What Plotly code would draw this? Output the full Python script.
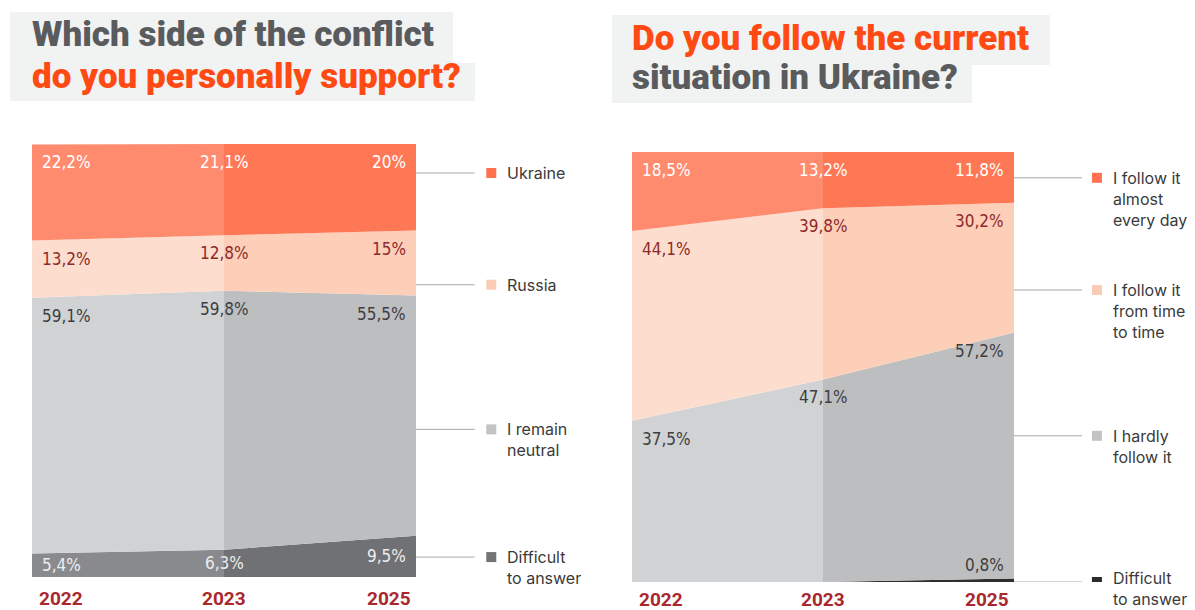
import plotly.graph_objects as go

W, H = 1195, 610

years = ["2022", "2023", "2025"]

# Which side of the conflict do you personally support? (top band first)
support_labels = ["Ukraine", "Russia", "I remain<br>neutral", "Difficult<br>to answer"]
support_ukraine = [22.2, 21.1, 20.0]
support_russia = [13.2, 12.8, 15.0]
support_neutral = [59.1, 59.8, 55.5]
support_difficult = [5.4, 6.3, 9.5]

# Do you follow the current situation in Ukraine? (top band first)
follow_labels = ["I follow it<br>almost<br>every day", "I follow it<br>from time<br>to time",
                 "I hardly<br>follow it", "Difficult<br>to answer"]
follow_daily = [18.5, 13.2, 11.8]
follow_sometimes = [44.1, 39.8, 30.2]
follow_hardly = [37.5, 47.1, 57.2]
follow_difficult = [0.0, 0.0, 0.8]

# styling
ORANGE = "#FF4A14"
TITLE_GRAY = "#5A5B5D"
YEAR_RED = "#A8282D"
TITLE_BG = "#F1F2F2"
LEADER = "#A9A9A9"
PCT_FONT = "DejaVu Sans Condensed, Liberation Sans Narrow, sans-serif"
TITLE_FONT = "Roboto, Liberation Sans, sans-serif"
LEGEND_FONT = "Inter, Noto Sans, sans-serif"

# fill colours per band: (2022-2023 segment, 2023-2025 segment), swatch, label colour, placement
support_style = [
    dict(fill=("#FF8B6F", "#FF7856"), swatch="#FF7150", text="#FFFFFF", place="top"),
    dict(fill=("#FDDDCD", "#FDCFB9"), swatch="#FCCBB6", text="#8E2A2B", place="top"),
    dict(fill=("#D1D2D4", "#BDBEC0"), swatch="#C2C3C5", text="#3D3E40", place="top"),
    dict(fill=("#898A8D", "#707174"), swatch="#727375", text="#EDEDED", place="center"),
]
follow_style = [
    dict(fill=("#FF8B6F", "#FF7856"), swatch="#FF7150", text="#FFFFFF", place="top"),
    dict(fill=("#FDDDCD", "#FDCFB9"), swatch="#FCCBB6", text="#8E2A2B", place="top"),
    dict(fill=("#D1D2D4", "#BDBEC0"), swatch="#C2C3C5", text="#3D3E40", place="top"),
    dict(fill=("#3A3A3A", "#2E2E2E"), swatch="#2B2B2B", text="#3D3E40", place="above"),
]

panels = [
    dict(series=[support_ukraine, support_russia, support_neutral, support_difficult],
         labels=support_labels, style=support_style, xa="x", ya="y",
         dom_x=(32 / W, 416 / W), dom_y=(1 - 577 / H, 1 - 144 / H),
         leader_end=1.153, swatch_x=1.183, text_x=1.232, year_shift=-21,
         legend_y=[93.3, 67.5, 34.1, 4.6], text_lift=[0, 0, 0, 0]),
    dict(series=[follow_daily, follow_sometimes, follow_hardly, follow_difficult],
         labels=follow_labels, style=follow_style, xa="x2", ya="y2",
         dom_x=(632 / W, 1014 / W), dom_y=(1 - 582 / H, 1 - 152 / H),
         leader_end=1.178, swatch_x=1.204, text_x=1.254, year_shift=-17,
         legend_y=[94.0, 67.9, 34.0, 0.0], text_lift=[0, 0, 0, 4]),
]


def fmt(v):
    return f"{v:g}".replace(".", ",") + "%"


fig = go.Figure()
annotations = []
shapes = []

for p_i, p in enumerate(panels):
    xa, ya = p["xa"], p["ya"]
    n = len(p["series"])
    # stacked areas, drawn bottom band first, one stack per year-to-year segment
    for seg in range(len(years) - 1):
        for k in reversed(range(n)):
            vals = p["series"][k]
            fig.add_trace(go.Scatter(
                x=years[seg:seg + 2], y=vals[seg:seg + 2],
                stackgroup=f"p{p_i}s{seg}", mode="lines",
                line=dict(width=0), fillcolor=p["style"][k]["fill"][seg],
                hoverinfo="skip", showlegend=False,
                xaxis=xa, yaxis=ya,
            ))

    # value labels
    for i, yr in enumerate(years):
        top = sum(s[i] for s in p["series"])
        for k in range(n):
            v = p["series"][k][i]
            bottom = top - v
            st = p["style"][k]
            if v > 0:
                if i == 0:
                    xanchor, xshift = "left", 8
                elif i == len(years) - 1:
                    xanchor, xshift = "right", -8
                else:
                    xanchor, xshift = "center", 0
                if st["place"] == "top":
                    y, yanchor, yshift = min(top, 100), "middle", -18
                elif st["place"] == "center":
                    y, yanchor, yshift = (top + bottom) / 2, "middle", 0
                else:
                    y, yanchor, yshift = top, "bottom", 2
                annotations.append(dict(
                    x=i, y=y, xref=xa, yref=ya, text=fmt(v), showarrow=False,
                    xanchor=xanchor, yanchor=yanchor, xshift=xshift, yshift=yshift,
                    font=dict(family=PCT_FONT, size=17, color=st["text"]),
                ))
            top = bottom

    # year labels under the axis
    for i, yr in enumerate(years):
        xanchor = "left" if i == 0 else ("right" if i == len(years) - 1 else "center")
        xshift = 5 if i == 0 else (-3 if i == len(years) - 1 else 0)
        annotations.append(dict(
            x=i, y=0, xref=xa, yref=ya, text=f"<b>{yr}</b>", showarrow=False,
            xanchor=xanchor, yanchor="middle", yshift=p["year_shift"], xshift=xshift,
            font=dict(family=TITLE_FONT, size=19, color=YEAR_RED),
        ))

    # leader lines, swatches and legend text on the right of each panel
    dom = xa + " domain"
    for k in range(n):
        ly = p["legend_y"][k]
        shapes.append(dict(type="line", xref=dom, yref=ya, x0=1.0, x1=p["leader_end"],
                           y0=ly, y1=ly, line=dict(color=LEADER, width=1)))
        shapes.append(dict(type="rect", xref=dom, yref=ya, xsizemode="pixel", ysizemode="pixel",
                           xanchor=p["swatch_x"], yanchor=ly, x0=0, x1=10, y0=-5, y1=5,
                           fillcolor=p["style"][k]["swatch"], line=dict(width=0)))
        annotations.append(dict(
            x=p["text_x"], y=ly, xref=dom, yref=ya, text=p["labels"][k], showarrow=False,
            xanchor="left", yanchor="top", yshift=12 + p["text_lift"][k], align="left",
            font=dict(family=LEGEND_FONT, size=16, color="#3A3A3A"),
        ))

# title blocks with their grey backgrounds (pixel boxes converted to paper units)
title_boxes = [(10, 12, 453, 63), (10, 63, 475, 101), (612, 15, 1050, 65), (612, 65, 972, 103)]
for x0, y0, x1, y1 in title_boxes:
    shapes.append(dict(type="rect", xref="paper", yref="paper", x0=x0 / W, x1=x1 / W,
                       y0=1 - y1 / H, y1=1 - y0 / H, fillcolor=TITLE_BG, line=dict(width=0),
                       layer="below"))

title_lines = [
    ("Which side of the conflict", 30, 35, TITLE_GRAY),
    ("do you personally support?", 30, 77, ORANGE),
    ("Do you follow the current", 630, 38, ORANGE),
    ("situation in Ukraine?", 630, 78, TITLE_GRAY),
]
for text, px, py, color in title_lines:
    annotations.append(dict(
        x=px / W, y=1 - py / H, xref="paper", yref="paper", text=text, showarrow=False,
        xanchor="left", yanchor="middle",
        font=dict(family=TITLE_FONT, size=35, color=color, weight=900),
    ))

axis_common = dict(showgrid=False, zeroline=False, showticklabels=False, ticks="",
                   showline=False, fixedrange=True)
fig.update_layout(
    width=W, height=H, margin=dict(l=0, r=0, t=0, b=0),
    paper_bgcolor="white", plot_bgcolor="rgba(0,0,0,0)", showlegend=False,
    xaxis=dict(domain=list(panels[0]["dom_x"]), type="category", categoryorder="array",
               categoryarray=years, range=[0, 2], anchor="y", **axis_common),
    yaxis=dict(domain=list(panels[0]["dom_y"]), range=[0, 100], anchor="x", **axis_common),
    xaxis2=dict(domain=list(panels[1]["dom_x"]), type="category", categoryorder="array",
                categoryarray=years, range=[0, 2], anchor="y2", **axis_common),
    yaxis2=dict(domain=list(panels[1]["dom_y"]), range=[0, 100], anchor="x2", **axis_common),
    annotations=annotations, shapes=shapes,
)

fig.write_html("out.html")
